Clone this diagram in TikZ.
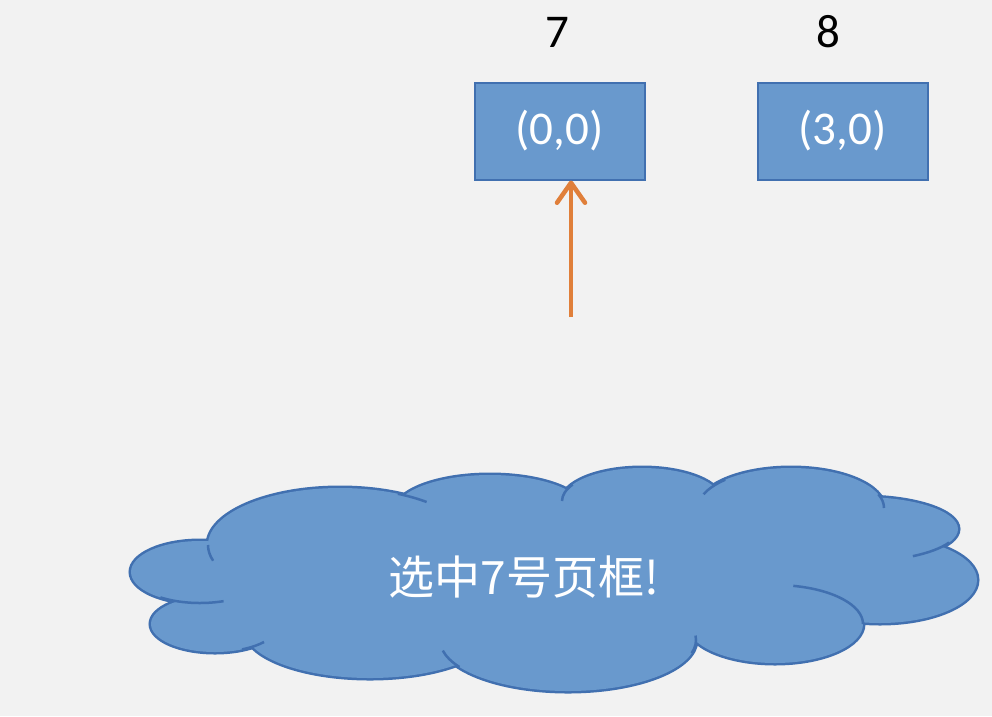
\documentclass[tikz,border=0pt]{standalone}
\usepackage{fontspec}
\setmainfont{Carlito}
\newfontfamily\cjk{Noto Sans CJK SC}
\usetikzlibrary{arrows.meta}
\definecolor{bg}{HTML}{F2F2F2}
\definecolor{boxfill}{HTML}{6999CD}
\definecolor{boxline}{HTML}{4170B0}
\definecolor{arrowc}{HTML}{E07F3A}
\tikzset{
  frame/.style={draw=boxline, line width=2pt, fill=boxfill, minimum width=170pt, minimum height=97pt, inner sep=0pt, text=white, font=\fontsize{47}{50}\selectfont},
  idx/.style={text=black, font=\fontsize{47}{50}\selectfont, inner sep=0pt},
  pointer/.style={draw=arrowc, line width=4.5pt, -{Straight Barb[round, length=20pt, width=28pt, line width=4.5pt]}},
  lobe/.style={draw=boxline, line width=5pt},
  lobefill/.style={fill=boxfill},
  stub/.style={draw=boxline, line width=2.5pt},
}
\begin{document}
\begin{tikzpicture}[x=1pt,y=-1pt]
\fill[bg] (0,0) rectangle (992,716);
\useasboundingbox (0,0) rectangle (992,716);
% boxes
\node[frame] (b7) at (559.5,131) {(0,0)};
\node[frame] (b8) at (842.5,131) {(3,0)};
\node[idx] (l7) at (557,32) {7};
\node[idx] (l8) at (828,32) {8};
% arrow
\coordinate (astart) at (571,317);
\draw[pointer] (astart) -- (b7.south -| astart);
% cloud
\def\cloudlobes#1{%
  \path[#1] (200,572) ellipse [x radius=69, y radius=31];
  \path[#1] (215,624) ellipse [x radius=64, y radius=28];
  \path[#1] (340,545) ellipse [x radius=132, y radius=57];
  \path[#1] (490,511) ellipse [x radius=95, y radius=36];
  \path[#1] (642,501) ellipse [x radius=80, y radius=33];
  \path[#1] (791,508) ellipse [x radius=93, y radius=40];
  \path[#1] (862,529) ellipse [x radius=96, y radius=32];
  \path[#1] (880,580) ellipse [x radius=97, y radius=43];
  \path[#1] (775,624) ellipse [x radius=88, y radius=39];
  \path[#1] (568,640) ellipse [x radius=128, y radius=51];
  \path[#1] (370,630) ellipse [x radius=125, y radius=48];
}
\cloudlobes{lobe}
\cloudlobes{lobefill}
\fill[boxfill] (300,520) rectangle (850,640);
\fill[boxfill] (230,580) rectangle (300,630);
% inner arcs of the cloud (angles negated: y axis points down)
\draw[stub] (340,545) ++(-180:132 and 57) arc[start angle=-180, end angle=-196, x radius=132, y radius=57];
\draw[stub] (340,545) ++(-64:132 and 57) arc[start angle=-64, end angle=-49, x radius=132, y radius=57];
\draw[stub] (642,501) ++(-150:80 and 33) arc[start angle=-150, end angle=-180, x radius=80, y radius=33];
\draw[stub] (791,508) ++(-135:93 and 40) arc[start angle=-135, end angle=-160, x radius=93, y radius=40];
\draw[stub] (791,508) ++(-20:93 and 40) arc[start angle=-20, end angle=0, x radius=93, y radius=40];
\draw[stub] (862,529) ++(25:96 and 32) arc[start angle=25, end angle=58, x radius=96, y radius=32];
\draw[stub] (775,624) ++(-78:88 and 39) arc[start angle=-78, end angle=0, x radius=88, y radius=39];
\draw[stub] (568,640) ++(-5:128 and 51) arc[start angle=-5, end angle=15, x radius=128, y radius=51];
\draw[stub] (568,640) ++(-192:128 and 51) arc[start angle=-192, end angle=-212, x radius=128, y radius=51];
\draw[stub] (200,572) ++(-235:69 and 31) arc[start angle=-235, end angle=-290, x radius=69, y radius=31];
\draw[stub] (215,624) ++(65:64 and 28) arc[start angle=65, end angle=40, x radius=64, y radius=28];
\node[text=white, font=\cjk\fontsize{46}{50}\selectfont, inner sep=0pt] (msg) at (524,577) {选中7号页框!};
\end{tikzpicture}
\end{document}
